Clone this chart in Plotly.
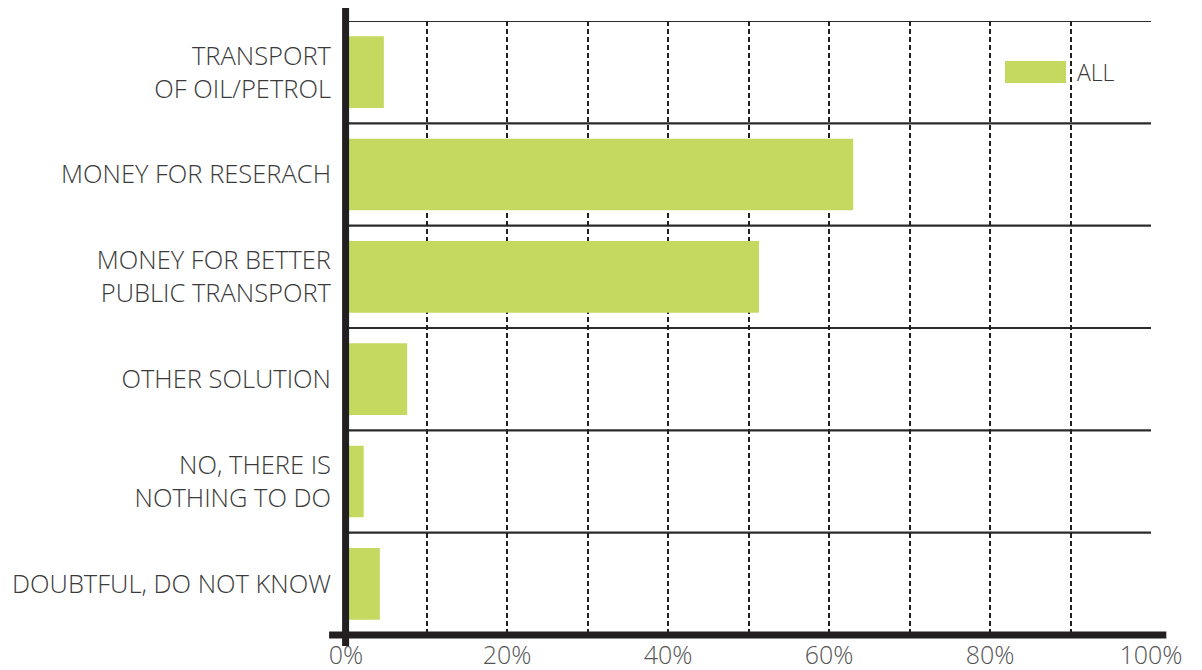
import plotly.graph_objects as go

categories = [
    "TRANSPORT<br>OF OIL/PETROL",
    "MONEY FOR RESERACH",
    "MONEY FOR BETTER<br>PUBLIC TRANSPORT",
    "OTHER SOLUTION",
    "NO, THERE IS<br>NOTHING TO DO",
    "DOUBTFUL, DO NOT KNOW",
]
values_all = [4.7, 63.0, 51.3, 7.6, 2.2, 4.2]
series_name = "ALL"
x_ticks = [0, 20, 40, 60, 80, 100]
x_ticklabels = ["0%", "20%", "40%", "60%", "80%", "100%"]

BAR_COLOR = "#c5d960"
TEXT_COLOR = "#3a3a3a"
FONT = "Open Sans"

pos = list(range(len(categories)))

fig = go.Figure()
fig.add_trace(go.Bar(
    y=pos, x=values_all, orientation="h", name=series_name,
    marker=dict(color=BAR_COLOR, line=dict(width=0)),
    width=0.7, showlegend=False, hoverinfo="x+y",
))

shapes = []
# horizontal separators at category boundaries (top included)
for b in [p - 0.5 for p in pos]:
    shapes.append(dict(type="line", xref="x", yref="y", x0=0, x1=100, y0=b, y1=b,
                       line=dict(color="#2b2b2b", width=2.2), layer="below"))
# bottom thick axis line
shapes.append(dict(type="line", xref="paper", yref="paper", x0=-0.021, x1=1.019, y0=0, y1=0,
                   line=dict(color="#231f20", width=7)))
# left thick axis line
shapes.append(dict(type="line", xref="paper", yref="paper", x0=-0.0005, x1=-0.0005, y0=-0.018, y1=1.021,
                   line=dict(color="#231f20", width=7)))
# legend swatch
shapes.append(dict(type="rect", xref="paper", yref="paper", x0=0.8186, x1=0.8944, y0=0.899, y1=0.9349,
                   fillcolor=BAR_COLOR, line=dict(width=0)))

fig.update_layout(
    width=1194, height=662,
    margin=dict(l=338, r=51, t=13, b=35),
    paper_bgcolor="white", plot_bgcolor="white",
    font=dict(family=FONT, size=25, color=TEXT_COLOR, weight=300),
    shapes=shapes,
    bargap=0.3,
    annotations=[dict(text=series_name, xref="paper", yref="paper", x=0.9055, y=0.917,
                      xanchor="left", yanchor="middle", showarrow=False,
                      font=dict(family=FONT, size=23, color=TEXT_COLOR, weight=300))],
    xaxis=dict(range=[0, 100], tickvals=x_ticks, ticktext=x_ticklabels,
               showgrid=True, gridcolor="#231f20", gridwidth=2, griddash="5px,3px",
               zeroline=False, showline=False, ticks="", ticklabelstandoff=3,
               automargin=False,
               tickfont=dict(size=25, color="#555555"),
               minor=dict(tickvals=[10, 30, 50, 70, 90], showgrid=True, gridcolor="#231f20",
                          gridwidth=2, griddash="5px,3px")),
    yaxis=dict(tickvals=pos, ticktext=categories, range=[len(categories) - 0.5, -0.5],
               showgrid=False, zeroline=False, showline=False, ticks="",
               automargin=False,
               ticklabelstandoff=14, tickfont=dict(size=25.5, color=TEXT_COLOR)),
)

fig.write_html("out.html")
